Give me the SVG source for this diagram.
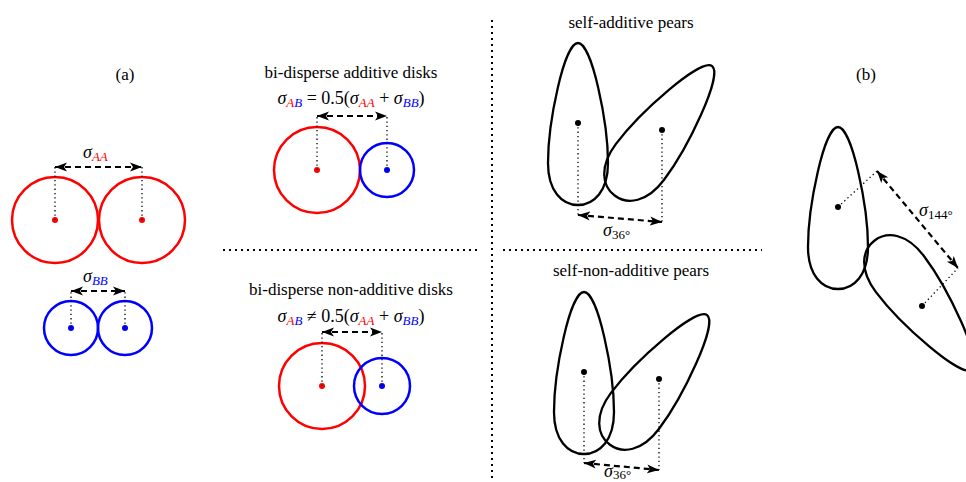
<svg xmlns="http://www.w3.org/2000/svg" width="966" height="482" viewBox="0 0 966 482">
<style>
text{font-family:"Liberation Serif","Times New Roman",serif;fill:#000}
.t{font-size:17px;text-anchor:middle}
.s{font-style:italic;font-size:18px}
.sub{font-style:italic;font-size:13px}
.r{fill:#f00}
.b{fill:#00f}
.cr{fill:none;stroke:#f00;stroke-width:2.5}
.cb{fill:none;stroke:#00f;stroke-width:2.5}
.dr{fill:#f00}
.db{fill:#00f}
.dk{fill:#000}
.pear{fill:none;stroke:#000;stroke-width:2.3}
.dot{fill:none;stroke:#000;stroke-width:1.3;stroke-dasharray:1.3,3}
.arr{fill:none;stroke:#000;stroke-width:2.2;stroke-dasharray:6,4;marker-start:url(#ah);marker-end:url(#ah)}
.div{fill:none;stroke:#000;stroke-width:2;stroke-dasharray:2,4}
</style>
<defs>
<marker id="ah" markerUnits="userSpaceOnUse" markerWidth="14" markerHeight="12" refX="12" refY="5" orient="auto-start-reverse" viewBox="0 0 14 10">
<path d="M0,0.5 L12,5 L0,9.5 L3,5 Z" fill="#000"/>
</marker>
<path id="pear" d="M0,-80 C14,-80 30,0 30,40 C30,68 16,82 0,82 C-16,82 -30,68 -30,40 C-30,0 -14,-80 0,-80 Z"/>
</defs>

<g id="dividers">
<line class="div" x1="492" y1="20" x2="492" y2="482"/>
<line class="div" x1="223" y1="250" x2="480" y2="250"/>
<line class="div" x1="503" y1="250" x2="762" y2="250"/>
</g>

<g id="label-a"><text class="t" x="125" y="80">(a)</text></g>
<g id="label-b"><text class="t" x="866" y="80">(b)</text></g>

<g id="disks-AA">
<circle class="cr" cx="55" cy="220" r="43"/>
<circle class="cr" cx="142" cy="220" r="43"/>
<circle class="dr" cx="55" cy="220" r="3"/>
<circle class="dr" cx="142" cy="220" r="3"/>
<text x="83" y="158"><tspan class="s">σ</tspan><tspan class="sub r" dy="3">AA</tspan></text>
</g>

<g id="disks-BB">
<circle class="cb" cx="71" cy="328" r="27"/>
<circle class="cb" cx="125" cy="328" r="27"/>
<circle class="db" cx="71" cy="328" r="3"/>
<circle class="db" cx="125" cy="328" r="3"/>
<text x="83" y="282"><tspan class="s">σ</tspan><tspan class="sub b" dy="3">BB</tspan></text>
</g>

<g id="additive-disks">
<text class="t" x="351" y="78">bi-disperse additive disks</text>
<text x="351" y="104" style="text-anchor:middle;font-size:18px"><tspan class="s">σ</tspan><tspan class="sub r" dy="3">A</tspan><tspan class="sub b">B</tspan><tspan dy="-3"> = 0.5(</tspan><tspan class="s">σ</tspan><tspan class="sub r" dy="3">AA</tspan><tspan dy="-3"> + </tspan><tspan class="s">σ</tspan><tspan class="sub b" dy="3">BB</tspan><tspan dy="-3">)</tspan></text>
<circle class="cr" cx="317" cy="170" r="43"/>
<circle class="cb" cx="387" cy="170" r="27"/>
<circle class="dr" cx="317" cy="170" r="3"/>
<circle class="db" cx="387" cy="170" r="3"/>
</g>

<g id="nonadditive-disks">
<text class="t" x="351" y="295">bi-disperse non-additive disks</text>
<text x="351" y="322" style="text-anchor:middle;font-size:18px"><tspan class="s">σ</tspan><tspan class="sub r" dy="3">A</tspan><tspan class="sub b">B</tspan><tspan dy="-3"> ≠ 0.5(</tspan><tspan class="s">σ</tspan><tspan class="sub r" dy="3">AA</tspan><tspan dy="-3"> + </tspan><tspan class="s">σ</tspan><tspan class="sub b" dy="3">BB</tspan><tspan dy="-3">)</tspan></text>
<circle class="cr" cx="322" cy="386" r="43"/>
<circle class="cb" cx="382" cy="386" r="28"/>
<circle class="dr" cx="322" cy="386" r="3"/>
<circle class="db" cx="382" cy="386" r="3"/>
</g>

<g id="self-additive-pears">
<text class="t" x="631" y="28">self-additive pears</text>
<use href="#pear" class="pear" transform="translate(578,123)"/>
<use href="#pear" class="pear" transform="translate(664,130) rotate(37)"/>
<circle class="dk" cx="578" cy="123" r="3"/>
<circle class="dk" cx="662" cy="130" r="3"/>
<text x="603" y="236"><tspan class="s">σ</tspan><tspan style="font-size:13px" dy="3">36°</tspan></text>
</g>

<g id="self-nonadditive-pears">
<text class="t" x="631" y="276">self-non-additive pears</text>
<use href="#pear" class="pear" transform="translate(584,372)"/>
<use href="#pear" class="pear" transform="translate(659,379) rotate(37)"/>
<circle class="dk" cx="584" cy="372" r="3"/>
<circle class="dk" cx="659" cy="379" r="3"/>
<text x="604" y="477"><tspan class="s">σ</tspan><tspan style="font-size:13px" dy="2">36°</tspan></text>
</g>

<g id="pears-b">
<use href="#pear" class="pear" transform="translate(838,207)"/>
<use href="#pear" class="pear" transform="translate(924,306) rotate(143)"/>
<circle class="dk" cx="838" cy="207" r="3"/>
<circle class="dk" cx="922" cy="306" r="3"/>
<text x="919" y="216"><tspan class="s">σ</tspan><tspan style="font-size:13px" dy="3">144°</tspan></text>
</g>

<g id="connectors">
<line class="dot" x1="55" y1="220" x2="55" y2="167"/>
<line class="dot" x1="142" y1="220" x2="142" y2="167"/>
<line class="arr" x1="55" y1="167" x2="142" y2="167"/>
<line class="dot" x1="71" y1="328" x2="71" y2="291"/>
<line class="dot" x1="125" y1="328" x2="125" y2="291"/>
<line class="arr" x1="71" y1="291" x2="125" y2="291"/>
<line class="dot" x1="317" y1="170" x2="317" y2="116"/>
<line class="dot" x1="387" y1="170" x2="387" y2="116"/>
<line class="arr" x1="317" y1="116" x2="387" y2="116"/>
<line class="dot" x1="322" y1="386" x2="322" y2="332"/>
<line class="dot" x1="382" y1="386" x2="382" y2="332"/>
<line class="arr" x1="322" y1="332" x2="382" y2="332"/>
<line class="dot" x1="578" y1="123" x2="578" y2="215"/>
<line class="dot" x1="662" y1="130" x2="662" y2="222"/>
<line class="arr" x1="578" y1="215" x2="662" y2="222"/>
<line class="dot" x1="584" y1="372" x2="584" y2="463"/>
<line class="dot" x1="659" y1="379" x2="659" y2="470"/>
<line class="arr" x1="584" y1="463" x2="659" y2="470"/>
<line class="dot" x1="838" y1="207" x2="877" y2="171"/>
<line class="dot" x1="922" y1="306" x2="958" y2="268"/>
<line class="arr" x1="877" y1="171" x2="958" y2="268"/>
</g>
</svg>
